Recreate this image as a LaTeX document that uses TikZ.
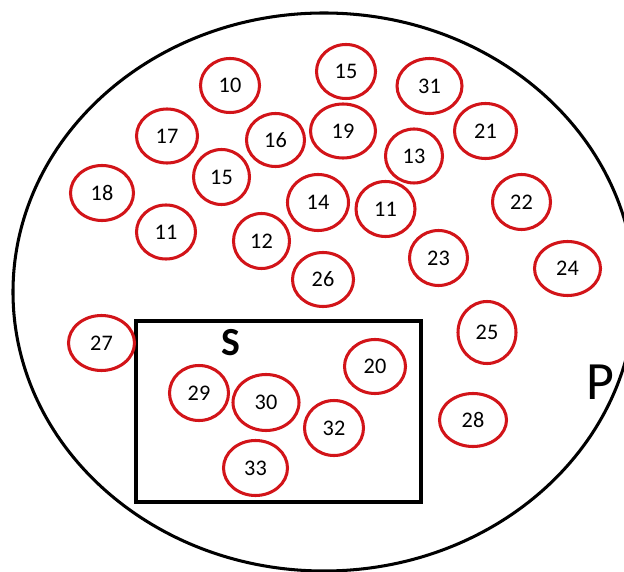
\documentclass[tikz,border=0pt]{standalone}
\usepackage{fontspec}
\setmainfont{Carlito}
\usetikzlibrary{shapes.geometric}
\definecolor{rossoel}{RGB}{210,20,25}
\begin{document}
\begin{tikzpicture}[x=0.03cm,y=-0.03cm,
	insieme/.style={black, line width=2.6pt},
	elemento/.style={ellipse, draw=rossoel, line width=2.6pt, inner sep=0pt,
		font=\fontsize{19}{22}\selectfont},
	etichetta/.style={inner sep=0pt},
	]
	% ── Area dell'immagine (624 x 572 px) ──
	\useasboundingbox (0,0) rectangle (624,572);
	
	% ── Insieme P (ellisse) e sottoinsieme S (rettangolo) ──
	\draw[insieme] (324,292) ellipse [x radius=311, y radius=279];
	\draw[insieme] (136,321) rectangle (421,502);
	\node[etichetta, font=\fontsize{34}{38}\selectfont\bfseries] (S) at (231,343) {S};
	\node[etichetta, font=\fontsize{46}{50}\selectfont] (P) at (600,382) {P};
	
	% ── Elementi: x / y / valore / larghezza / altezza ──
	\foreach \x/\y/\t/\w/\h [count=\i] in {
		230/85.5/10/59/54, 346/71.5/15/59/54, 429.5/86/31/65/55,
		167/136/17/61/54, 275.5/140/16/58/53, 343/131/19/65/54,
		485.5/131/21/62/55, 414/156/13/57/54, 221.5/177/15/56/55,
		102/193/18/63/55, 318/202.5/14/61/56, 385.5/209/11/59/55,
		521.5/202/22/58/55, 166/232/11/59/54, 261.5/241/12/56/55,
		438.5/258/23/58/55, 567.5/268.5/24/66/54, 323/279.5/26/61/54,
		101.5/343/27/66/55, 487/332.5/25/58/62, 473/420/28/67/53,
		375/366.5/20/61/54, 199/393/29/59/55, 266/402.5/30/66/56,
		334/428/32/59/55, 255.5/468/33/64/55}
	\node[elemento, minimum width=\w*0.03cm, minimum height=\h*0.03cm] (e\i) at (\x,\y) {\t};
	
\end{tikzpicture}
\end{document}
